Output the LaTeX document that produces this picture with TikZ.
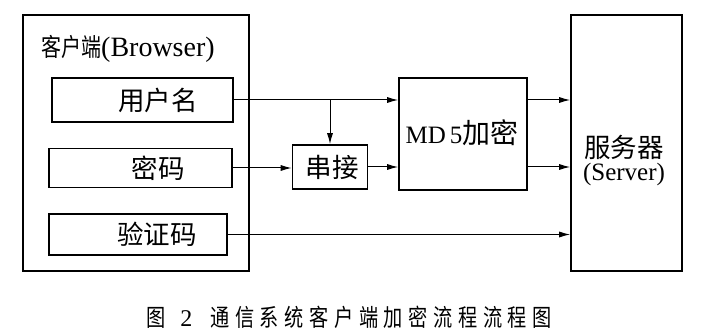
\documentclass[tikz,border=0pt]{standalone}
\usepackage{fontspec}
\setmainfont{Liberation Serif}
\newfontfamily\cjk{Noto Sans CJK SC}
\newfontfamily\cjkn[FakeStretch=0.8]{Noto Sans CJK SC}
\usetikzlibrary{arrows.meta}
\newcommand\capsp{\hspace{5.6pt}}
\tikzset{
  box/.style={draw, line width=1.6pt, inner sep=0pt},
  lbl/.style={inner sep=0pt, font=\cjk\fontsize{26.5}{30}\selectfont},
  arr/.style={line width=1pt, -{Latex[length=11pt,width=6pt]}},
}
\begin{document}
\begin{tikzpicture}[x=1pt,y=-1pt]
\useasboundingbox (0,0) rectangle (702,336);
% client
\node[box, minimum width=226pt, minimum height=256pt] (cl) at (136,143) {};
\node[inner sep=0pt, anchor=west] (clt) at (41,49) {{\cjkn\fontsize{25}{30}\selectfont 客户端}{\fontsize{28}{34}\selectfont (Browser)}};
\node[box, minimum width=181pt, minimum height=44pt] (u) at (142.5,100) {};
\node[lbl] (ut) at (158,100) {用户名};
\node[box, minimum width=183pt, minimum height=39pt] (p) at (140.5,168) {};
\node[lbl] (pt) at (158,168) {密码};
\node[box, minimum width=178pt, minimum height=41pt] (v) at (138,234.5) {};
\node[lbl] (vt) at (157,234.5) {验证码};
% concat
\node[box, minimum width=75pt, minimum height=44pt] (c) at (330,167) {};
\node[lbl] (ct) at (332,167) {串接};
% md5
\node[box, minimum width=128pt, minimum height=112pt] (m) at (463,134) {};
\node[inner sep=0pt] (mt) at (462,133) {{\fontsize{25}{28}\selectfont MD\,5}{\cjk\fontsize{28}{30}\selectfont 加密}};
% server
\node[box, minimum width=111pt, minimum height=256pt] (s) at (626.5,143) {};
\node[lbl] (st1) at (624,147) {服务器};
\node[inner sep=0pt, font=\fontsize{25}{30}\selectfont] (st2) at (624,174) {(Server)};
% arrows
\draw[arr] (u.east) -- (u.east -| m.west);
\draw[arr] (c.north |- u.east) -- (c.north);
\draw[arr] (p.east) -- (p.east -| c.west);
\draw[arr] (c.east) -- (c.east -| m.west);
\draw[arr] (m.east |- u.east) -- (u.east -| s.west);
\draw[arr] (m.east |- c.east) -- (c.east -| s.west);
\draw[arr] (v.east) -- (v.east -| s.west);
% caption
\node[inner sep=0pt, anchor=west] (cap) at (146,317) {{\cjkn\fontsize{24}{28}\selectfont 图}\hspace{15pt}{\fontsize{24}{28}\selectfont 2}\hspace{18pt}{\cjkn\fontsize{24}{28}\selectfont 通\capsp 信\capsp 系\capsp 统\capsp 客\capsp 户\capsp 端\capsp 加\capsp 密\capsp 流\capsp 程\capsp 流\capsp 程\capsp 图}};
\end{tikzpicture}
\end{document}
